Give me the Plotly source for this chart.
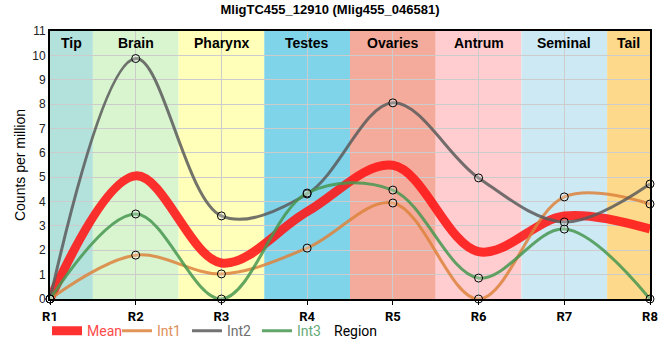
import plotly.graph_objects as go

regions = ["R1", "R2", "R3", "R4", "R5", "R6", "R7", "R8"]
int1 = [0, 1.8, 1.03, 2.09, 3.94, 0, 4.19, 3.9]
int2 = [0, 9.87, 3.41, 4.31, 8.05, 4.97, 3.16, 4.72]
int3 = [0, 3.49, 0, 4.35, 4.47, 0.86, 2.87, 0]
mean = [round((a + b + c) / 3, 3) for a, b, c in zip(int1, int2, int3)]

tissues = ["Tip", "Brain", "Pharynx", "Testes", "Ovaries", "Antrum", "Seminal", "Tail"]
tissue_bounds = [(1, 1.5), (1.5, 2.5), (2.5, 3.5), (3.5, 4.5), (4.5, 5.5), (5.5, 6.5), (6.5, 7.5), (7.5, 8)]
tissue_colors = ["#b3e1dc", "#d8f5d0", "#ffffb9", "#7fd4ea", "#f5ab9b", "#ffcccf", "#cdeaf4", "#fdd98b"]

xpos = list(range(1, len(regions) + 1))

fig = go.Figure()

series = [
    ("Int1", int1, "rgba(221,130,60,0.85)", "#e0905a"),
    ("Int2", int2, "rgba(90,90,90,0.85)", "#707070"),
    ("Int3", int3, "rgba(70,150,80,0.85)", "#66aa77"),
]

fig.add_trace(go.Scatter(
    x=xpos, y=mean, mode="lines", name="<span style='color:#ff4a4a'>Mean</span>",
    line=dict(color="rgba(255,20,20,0.88)", width=9, shape="spline", smoothing=1.0),
))
for name, vals, col, tcol in series:
    fig.add_trace(go.Scatter(
        x=xpos, y=vals, mode="lines", name=f"<span style='color:{tcol}'>{name}</span>",
        line=dict(color=col, width=3, shape="spline", smoothing=1.0),
    ))
for name, vals, col, tcol in series:
    fig.add_trace(go.Scatter(
        x=xpos, y=vals, mode="markers", showlegend=False, hoverinfo="skip",
        marker=dict(symbol="circle", size=8, color="rgba(255,255,255,0.25)",
                    line=dict(color="black", width=1)),
        cliponaxis=False,
    ))

shapes = []
annotations = []
for t, (a, b), c in zip(tissues, tissue_bounds, tissue_colors):
    shapes.append(dict(type="rect", xref="x", yref="paper", x0=a, x1=b, y0=0, y1=1,
                       fillcolor=c, line=dict(width=0), layer="below"))
    annotations.append(dict(x=(a + b) / 2, y=1, xref="x", yref="paper", yanchor="top", yshift=-2,
                            text=f"<b>{t}</b>", showarrow=False,
                            font=dict(family="Liberation Sans, Arial", size=14, color="black")))

annotations.append(dict(x=(332 - 50) / 600, y=-0.12, xref="paper", yref="paper",
                        xanchor="left", yanchor="middle", text="Region", showarrow=False,
                        font=dict(family="Roboto, Arial", size=14, color="black")))

fig.update_layout(
    width=660, height=360,
    margin=dict(l=50, r=10, t=31, b=61, autoexpand=False),
    paper_bgcolor="white", plot_bgcolor="white",
    title=dict(text="<b>MligTC455_12910 (Mlig455_046581)</b>", x=0.5, xanchor="center",
               y=0.975, yanchor="middle",
               font=dict(family="Liberation Sans, Arial", size=13, color="black")),
    shapes=shapes, annotations=annotations,
    showlegend=True,
    legend=dict(orientation="h", x=-0.005, xanchor="left", y=-0.12, yanchor="middle",
                font=dict(family="Roboto, Arial", size=14), bgcolor="rgba(0,0,0,0)",
                itemwidth=30, traceorder="normal", entrywidth=25, entrywidthmode="pixels"),
    xaxis=dict(range=[1, 8], tickmode="array", tickvals=xpos,
               ticktext=[f"<b>{r}</b>" for r in regions],
               showgrid=True, gridcolor="#cccccc", gridwidth=1, zeroline=False,
               showline=True, linecolor="black", linewidth=2, mirror=True,
               ticks="outside", ticklen=4, tickcolor="black", automargin=False,
               tickfont=dict(family="Roboto, Arial", size=13, color="black")),
    yaxis=dict(range=[0, 11], tickmode="linear", dtick=1, automargin=False,
               showgrid=True, gridcolor="#cccccc", gridwidth=1, zeroline=False,
               showline=True, linecolor="black", linewidth=2, mirror=True,
               ticks="", title=dict(text="Counts per million", standoff=3,
                                     font=dict(family="Liberation Sans, Arial", size=14, color="black")),
               tickfont=dict(family="Liberation Sans, Arial", size=12, color="#222222")),
)

fig.write_html("out.html", config={"displayModeBar": False},
               post_script="document.body.style.margin='0';document.body.style.overflow='hidden';")
